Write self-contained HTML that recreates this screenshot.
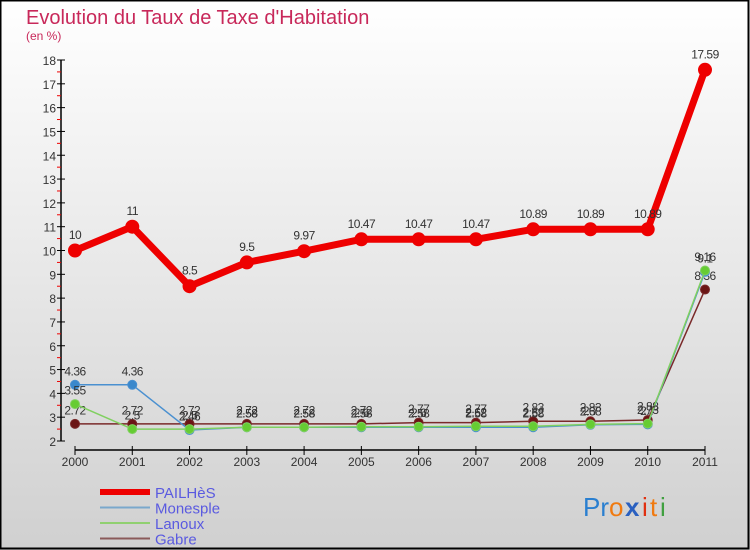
<!DOCTYPE html>
<html><head><meta charset="utf-8"><style>
body{margin:0;width:750px;height:550px;overflow:hidden;font-family:"Liberation Sans",sans-serif}
svg{display:block}
</style></head><body>
<svg id="c" width="750" height="550" xmlns="http://www.w3.org/2000/svg">
<defs><linearGradient id="bg" x1="0" y1="0" x2="0" y2="1"><stop offset="0" stop-color="#ffffff"/><stop offset="1" stop-color="#d0d0d0"/></linearGradient></defs>
<rect x="0" y="0" width="750" height="550" fill="url(#bg)"/>
<rect x="0.5" y="0.5" width="748" height="548" fill="none" stroke="#000" stroke-width="2"/>
<text x="26" y="24" font-size="20" fill="#c8285a">Evolution du Taux de Taxe d'Habitation</text>
<text x="26" y="40" font-size="12" fill="#c8285a">(en %)</text>
<g id="axes"></g><g id="series"></g><g id="legend"></g>
<g font-size="26" font-family="Liberation Sans, sans-serif">
<text x="583" y="516" fill="#2a7fd0">Pr</text><text x="609" y="516" fill="#f07a10">o</text><text x="625" y="516" fill="#2a60c0" font-weight="bold">x</text><text x="642" y="516" fill="#e03010">i</text><text x="650" y="516" fill="#f07a10">t</text><text x="660" y="516" fill="#40a040">i</text>
</g>
</svg>
<script>
const years=["2000","2001","2002","2003","2004","2005","2006","2007","2008","2009","2010","2011"];
const pailhes=[10,11,8.5,9.5,9.97,10.47,10.47,10.47,10.89,10.89,10.89,17.59];
const monesple=[4.36,4.36,2.46,2.58,2.58,2.58,2.58,2.58,2.58,2.68,2.7,9.1];
const lanoux=[3.55,2.5,2.5,2.58,2.58,2.6,2.6,2.62,2.62,2.7,2.73,9.16];
const gabre=[2.72,2.72,2.72,2.72,2.72,2.72,2.77,2.77,2.83,2.83,2.88,8.36];
const yTicks=[2,3,4,5,6,7,8,9,10,11,12,13,14,15,16,17,18];
const NS="http://www.w3.org/2000/svg";
const X=i=>75+i*(630/11), Y=v=>441-(v-2)*(381/16);
function mk(tag,attrs,parent){const e=document.createElementNS(NS,tag);for(const k in attrs)e.setAttribute(k,attrs[k]);parent.appendChild(e);return e;}
const ax=document.getElementById('axes');
let e=mk('line',{x1:61,y1:Y(18),x2:61,y2:Y(2),stroke:'#000','stroke-width':1.5},ax);


e=mk('line',{x1:X(0),y1:450,x2:X(11),y2:450,stroke:'#000','stroke-width':1.5},ax);


yTicks.forEach(v=>{
 mk('line',{x1:57,y1:Y(v),x2:65,y2:Y(v),stroke:'#000'},ax);
 if(v<18)mk('line',{x1:57,y1:Y(v+0.5),x2:61,y2:Y(v+0.5),stroke:'#e00'},ax);
 const t=mk('text',{x:56,y:Y(v)+5,'font-size':12,fill:'#333','text-anchor':'end'},ax);t.textContent=v;
 
 
});
years.forEach((y,i)=>{
 mk('line',{x1:X(i),y1:446,x2:X(i),y2:455,stroke:'#000'},ax);
 const t=mk('text',{x:X(i),y:466,'font-size':12,fill:'#333','text-anchor':'middle'},ax);t.textContent=y;
 
 
});
const sg=document.getElementById('series');
function series(name,vals,color,w,r,dot){
 const g=mk('g',{},sg);
 
 
 mk('polyline',{points:vals.map((v,i)=>X(i)+','+Y(v)).join(' '),fill:'none',stroke:color,'stroke-width':w,'stroke-linejoin':'round'},g);
 vals.forEach((v,i)=>{
  const c=mk('circle',{cx:X(i),cy:Y(v),r:r,fill:dot,stroke:color},g);
  
  
  const t=mk('text',{x:X(i),y:Y(v)-r-5,'font-size':12,fill:'#333','text-anchor':'middle','letter-spacing':'-0.5'},g);t.textContent=v;
  
  
 });
}
series('gabre',gabre,'#7a2a2a',1.5,4.5,'#6b1515');
series('monesple',monesple,'#4a90d0',1.5,4.5,'#3a88cc');
series('lanoux',lanoux,'#80d060',1.5,4.5,'#66cc33');
series('pailhes',pailhes,'#ee0000',7,6.5,'#ee0000');
const lg=document.getElementById('legend');
[['PAILHèS','#ee0000',6],['Monesple','#7aa8cc',2],['Lanoux','#90d070',2],['Gabre','#8a5a5a',2]].forEach((d,i)=>{
 const y=492+i*15.5;
 const l=mk('line',{x1:100,y1:y,x2:150,y2:y,stroke:d[1],'stroke-width':d[2]},lg);
 
 
 const t=mk('text',{x:155,y:y+6,'font-size':15,fill:'#5a5ae0'},lg);t.textContent=d[0];
 
 
});
</script>
</body></html>
